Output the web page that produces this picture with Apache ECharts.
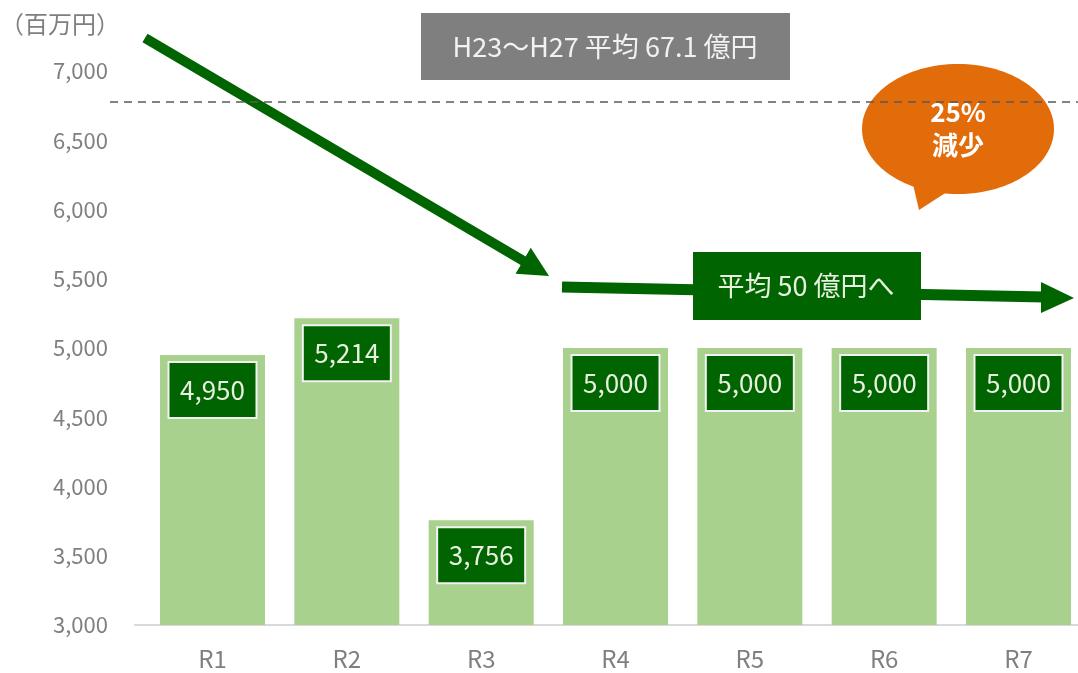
<!DOCTYPE html>
<html><head><meta charset="utf-8">
<script src="https://cdn.jsdelivr.net/npm/echarts@6/dist/echarts.min.js"></script>
<style>html,body{margin:0;padding:0;background:#fff}#c{width:1078px;height:673px}</style>
</head><body><div id="c"></div>
<script>
const categories = ['R1','R2','R3','R4','R5','R6','R7'];
const values = [4950, 5214, 3756, 5000, 5000, 5000, 5000];
const pastAverage = 6780;
const unitLabel = '（百万円）';
const pastText = 'H23～H27 平均 67.1 億円';
const targetText = '平均 50 億円へ';
const bubbleText = '25%\n減少';

const FONT = '"Noto Sans CJK JP", "Noto Sans", sans-serif';
const chart = echarts.init(document.getElementById('c'));
const dark = '#006400';

// arrow 1 geometry
const a1s = [145, 38], a1t = [549, 276];
const dx = a1t[0]-a1s[0], dy = a1t[1]-a1s[1], L = Math.hypot(dx, dy);
const ux = dx/L, uy = dy/L, px = -uy, py = ux;
const hb = [a1t[0]-30*ux, a1t[1]-30*uy];

const positions = categories.map((c, i) => i + 1);
const barData = values.map((v, i) => [positions[i], v]);

chart.setOption({
  animation: false,
  grid: {left: 135, top: 71, right: 0, bottom: 48, containLabel: false},
  xAxis: {
    type: 'value', min: 0.423, max: 7.443,
    splitLine: {show: false},
    axisLine: {show: true, onZero: false, lineStyle: {color: '#d9d9d9', width: 2}},
    axisTick: {show: false},
    axisLabel: {color: '#7f7f7f', fontSize: 24, fontFamily: FONT, margin: 22,
      customValues: positions, formatter: v => categories[Math.round(v) - 1] || ''}
  },
  yAxis: {
    type: 'value', min: 3000, max: 7000, interval: 500,
    splitLine: {show: false},
    axisLine: {show: false}, axisTick: {show: false},
    axisLabel: {color: '#7f7f7f', fontSize: 22, fontFamily: FONT, margin: 27,
      formatter: v => v.toLocaleString('en-US')}
  },
  series: [{
    type: 'bar', data: barData, barWidth: 105,
    itemStyle: {color: '#a9d18e'},
    label: {
      show: true, position: 'insideTop', distance: 8,
      formatter: p => p.value[1].toLocaleString('en-US'),
      color: '#e8f0e0', fontSize: 26, fontFamily: FONT,
      backgroundColor: dark, borderColor: '#f2f2f2', borderWidth: 2,
      width: 86, height: 54, lineHeight: 54, align: 'center'
    },
    markLine: {
      silent: true, symbol: 'none',
      label: {show: false},
      lineStyle: {color: '#595959', type: [8, 6], width: 1.5},
      data: [[{x: 110, yAxis: pastAverage}, {x: 1078, yAxis: pastAverage}]]
    }
  }],
  graphic: [
    {type: 'text', left: 0, top: 12, style: {text: unitLabel, fill: '#7f7f7f', font: '24px ' + FONT}},
    // gray box
    {type: 'rect', shape: {x: 421, y: 13, width: 369, height: 67}, style: {fill: '#7f7f7f'}},
    {type: 'text', x: 605, y: 47, style: {text: pastText, fill: '#f2f2f2', font: '27px ' + FONT, align: 'center', verticalAlign: 'middle'}},
    // arrow 1
    {type: 'line', shape: {x1: a1s[0], y1: a1s[1], x2: hb[0]+3*ux, y2: hb[1]+3*uy}, style: {stroke: dark, lineWidth: 10}},
    {type: 'polygon', shape: {points: [a1t, [hb[0]+15*px, hb[1]+15*py], [hb[0]-15*px, hb[1]-15*py]]}, style: {fill: dark}},
    // arrow 2
    {type: 'line', shape: {x1: 562, y1: 287, x2: 1044, y2: 297}, style: {stroke: dark, lineWidth: 11}},
    {type: 'polygon', shape: {points: [[1074, 298], [1041, 282], [1041, 313]]}, style: {fill: dark}},
    {type: 'rect', shape: {x: 693, y: 252, width: 228, height: 68}, style: {fill: dark}},
    {type: 'text', x: 806, y: 286, style: {text: targetText, fill: '#e8f0e0', font: '27px ' + FONT, align: 'center', verticalAlign: 'middle'}},
    // bubble
    {type: 'polygon', shape: {points: [[912, 180], [919, 210], [950, 190]]}, style: {fill: '#e36c0a'}},
    {type: 'ellipse', shape: {cx: 958, cy: 129, rx: 96, ry: 65}, style: {fill: '#e36c0a'}},
    {type: 'text', x: 958, y: 129, style: {text: bubbleText, fill: '#ffffff', font: 'bold 26px ' + FONT, align: 'center', verticalAlign: 'middle', lineHeight: 33}}
  ]
});
</script></body></html>
